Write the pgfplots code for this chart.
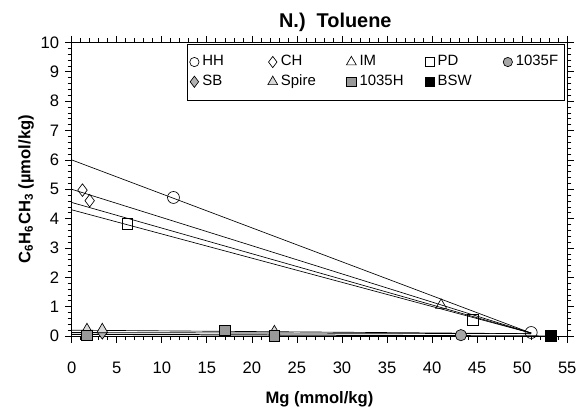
\documentclass[border=0pt]{standalone}
\usepackage{pgfplots}
\pgfplotsset{compat=1.18}
\usepackage{fontspec}
\setmainfont{Liberation Sans}

% data
\pgfplotstableread{
x y
11.3 4.72
51.0 0.12
}\hh
\pgfplotstableread{
x y
1.2 4.97
2.0 4.61
}\ch
\pgfplotstableread{
x y
41.0 1.05
}\im
\pgfplotstableread{
x y
6.2 3.82
44.5 0.55
}\pd
\pgfplotstableread{
x y
43.2 0.03
}\fF
\pgfplotstableread{
x y
1.7 0.10
3.4 0.10
}\sb
\pgfplotstableread{
x y
1.7 0.22
3.4 0.22
22.5 0.15
}\spire
\pgfplotstableread{
x y
1.7 0.02
17.0 0.20
22.5 0.00
}\fH
\pgfplotstableread{
x y
53.2 0.0
}\bsw

\begin{document}
\begin{tikzpicture}
\begin{axis}[
  scale only axis,
  width=298.8pt, height=177pt,
  xmin=0, xmax=55, ymin=0, ymax=10,
  xtick={0,5,...,55}, ytick={0,1,...,10},
  minor x tick num=4, minor y tick num=4,
  tick align=outside,
  major tick length=4pt, minor tick length=2.5pt,
  tick style={black, thin},
  axis line style={black, thin},
  /pgf/number format/assume math mode=true,
  ticklabel style={font=\fontsize{10}{12}\selectfont},
  xticklabel style={yshift=-8pt},
  xlabel={\textbf{Mg (mmol/kg)}},
  ylabel={\textbf{C\textsubscript{6}H\textsubscript{6}CH\textsubscript{3} (µmol/kg)}},
  label style={font=\fontsize{10.5}{12}\selectfont},
  every axis x label/.style={at={(axis description cs:0.5,-0.215)}, anchor=center},
  every axis y label/.style={at={(axis description cs:-0.092,0.5)}, rotate=90, anchor=center},
  title={\textbf{N.)\ \ Toluene}},
  every axis title/.style={at={(axis description cs:0.532,1.068)}, anchor=center, font=\fontsize{12}{14}\selectfont},
  legend columns=5,
  legend style={at={(axis description cs:0.994,0.996)}, anchor=north east,
    draw=black, thin, inner xsep=1.5pt, inner ysep=5pt, font=\fontsize{9}{11}\selectfont,
    /tikz/every even column/.append style={column sep=0pt}},
  legend image post style={/tikz/mark size=2.8pt},
  legend cell align=left,
  clip=false,
]
% mixing lines
\addplot[no marks, black, thin, forget plot] coordinates {(0,6.0) (51,0.1)};
\addplot[no marks, black, thin, forget plot] coordinates {(0,5.0) (51,0.1)};
\addplot[no marks, black, thin, forget plot] coordinates {(0,4.55) (51,0.1)};
\addplot[no marks, black, thin, forget plot] coordinates {(0,4.3) (51,0.1)};
\addplot[no marks, black, thin, forget plot] coordinates {(0,0.2) (51,0.08)};
\addplot[no marks, black, thin, forget plot] coordinates {(0,0.12) (51,0.08)};
\addplot[no marks, black, semithick, forget plot] coordinates {(0,0.06) (53,0.0)};

\addplot[only marks, mark=o, mark size=3.6pt, black] table {\hh};
\addlegendentry{\makebox[37.5pt][l]{HH}}
\addplot[only marks, mark=diamond, mark size=3.8pt, black, legend image post style={/tikz/mark size=3.4pt}] table {\ch};
\addlegendentry{\makebox[37.5pt][l]{CH}}
\addplot[only marks, mark=triangle, mark size=3.8pt, black, legend image post style={/tikz/mark size=3.4pt}] table {\im};
\addlegendentry{\makebox[37.5pt][l]{IM}}
\addplot[only marks, mark=square, mark size=3.2pt, black] table {\pd};
\addlegendentry{\makebox[37.5pt][l]{PD}}
\addplot[only marks, mark=*, mark size=3.4pt, black, mark options={fill=gray!70}] table {\fF};
\addlegendentry{1035F}
\addplot[only marks, mark=diamond*, mark size=3.6pt, black, mark options={fill=gray!60}, legend image post style={/tikz/mark size=3.4pt}] table {\sb};
\addlegendentry{\makebox[37.5pt][l]{SB}}
\addplot[only marks, mark=triangle*, mark size=3.8pt, black, mark options={fill=gray!30}, legend image post style={/tikz/mark size=3.4pt}] table {\spire};
\addlegendentry{\makebox[37.5pt][l]{Spire}}
\addplot[only marks, mark=square*, mark size=3.2pt, black, mark options={fill=gray!80}] table {\fH};
\addlegendentry{\makebox[37.5pt][l]{1035H}}
\addplot[only marks, mark=square*, mark size=3.4pt, black] table {\bsw};
\addlegendentry{\makebox[37.5pt][l]{BSW}}
\end{axis}
\path[use as bounding box] ([shift={(-43.2pt,-42.8pt)}]current axis.south west) rectangle ([shift={(7.2pt,25.6pt)}]current axis.north east);
\end{tikzpicture}
\end{document}
